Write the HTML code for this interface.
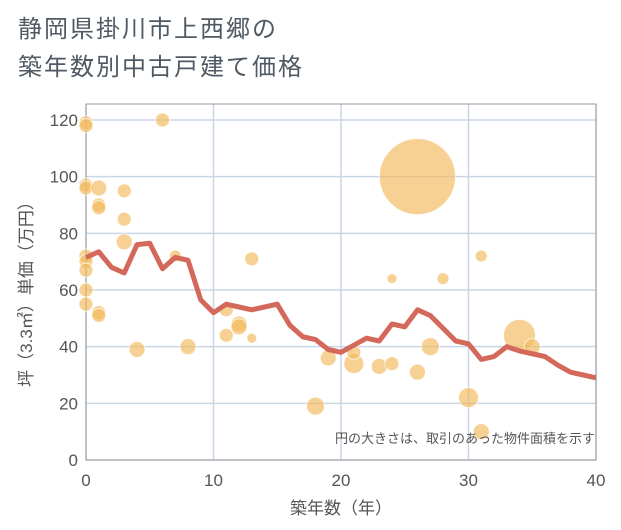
<!DOCTYPE html>
<html><head><meta charset="utf-8"><style>
body{margin:0;background:#fff;font-family:"Liberation Sans","Noto Sans CJK JP",sans-serif;}
#wrap{position:relative;width:621px;height:530px;overflow:hidden;background:#fff;}
.title{position:absolute;left:18px;font-size:24px;color:#505a64;letter-spacing:2px;line-height:30px;}
</style></head><body>
<div id="wrap">
<div class="title" style="top:15px">静岡県掛川市上西郷の</div>
<div class="title" style="top:53px">築年数別中古戸建て価格</div>
<svg id="svg" width="621" height="530" style="position:absolute;left:0;top:0"></svg>
</div>
<script>
const years=[0,1,2,3,4,5,6,7,8,9,10,11,12,13,14,15,16,17,18,19,20,21,22,23,24,25,26,27,28,29,30,31,32,33,34,35,36,37,38,39,40];
const avgPrice=[71.5,73.5,68,66,76,76.5,67.5,71.5,70.5,56.5,52,55,54,53,54,55,47.5,43.5,42.5,39,38,40.5,43,42,48,47,53,51,46.5,42,41,35.5,36.5,40,38.5,37.5,36.5,33.5,31,30,29];
const bubX=[0,0,0,0,0,0,0,0,0,1,1,1,1,1,3,3,3,4,6,7,8,11,11,12,12,13,13,18,19,21,21,23,24,24,26,26,27,28,30,31,31,34,35];
const bubY=[119,118,97,96,72,70,67,60,55,96,90,89,52,51,95,85,77,39,120,72,40,53,44,48,47,43,71,19,36,34,38,33,34,64,100,31,40,64,22,72,10,44,40];
const bubR=[7,7,7,7,7,7,7,7,7,8,7,7,7,7,7,7,8,8,7,6,8,7,7,8,8,5,7,9,8,10,7,8,7,5,38,8,9,6,10,6,8,16,8];
const xTicks=[0,10,20,30,40];
const yTicks=[0,20,40,60,80,100,120];
const X0=86,X1=596,Y0=460,YT=104;
const sx=v=>X0+(X1-X0)*v/40;
const sy=v=>Y0-(Y0-120)*v/120;
const svg=document.getElementById('svg');
const NS='http://www.w3.org/2000/svg';
function mk(t,a,p){const e=document.createElementNS(NS,t);for(const k in a)e.setAttribute(k,a[k]);(p||svg).appendChild(e);return e;}
const grid=mk('g',{});


yTicks.forEach(v=>{mk('line',{x1:X0,x2:X1,y1:sy(v),y2:sy(v),stroke:'#c8d6e5','stroke-width':1.5},grid);
const t=mk('text',{x:X0-8,y:sy(v)+6,'text-anchor':'end','font-size':17,fill:'#555'});t.textContent=v;

});
xTicks.forEach(v=>{mk('line',{x1:sx(v),x2:sx(v),y1:YT,y2:Y0,stroke:'#c8d6e5','stroke-width':1.5},grid);
const t=mk('text',{x:sx(v),y:486,'text-anchor':'middle','font-size':17,fill:'#555'});t.textContent=v;

});
const fr=mk('rect',{x:X0,y:YT,width:X1-X0,height:Y0-YT,fill:'none',stroke:'#999','stroke-width':1});


const bg=mk('g',{});


bubX.forEach((x,i)=>{const c=mk('circle',{cx:sx(x),cy:sy(bubY[i]),r:bubR[i],fill:'rgba(242,184,90,0.65)',stroke:'rgba(255,255,255,0.7)','stroke-width':1},bg);

});
const pl=mk('polyline',{points:years.map((y,i)=>sx(y)+','+sy(avgPrice[i])).join(' '),fill:'none',stroke:'#d4685a','stroke-width':5,'stroke-linejoin':'round'});


const note=mk('text',{x:595,y:443,'text-anchor':'end','font-size':13,fill:'#555'});note.textContent='円の大きさは、取引のあった物件面積を示す';


const xt=mk('text',{x:341,y:514,'text-anchor':'middle','font-size':17,fill:'#555'});xt.textContent='築年数（年）';


const yt=mk('text',{x:0,y:0,'text-anchor':'middle','font-size':17,fill:'#555',transform:'translate(32,290) rotate(-90)'});yt.textContent='坪（3.3㎡）単価（万円）';


</script>
</body></html>
